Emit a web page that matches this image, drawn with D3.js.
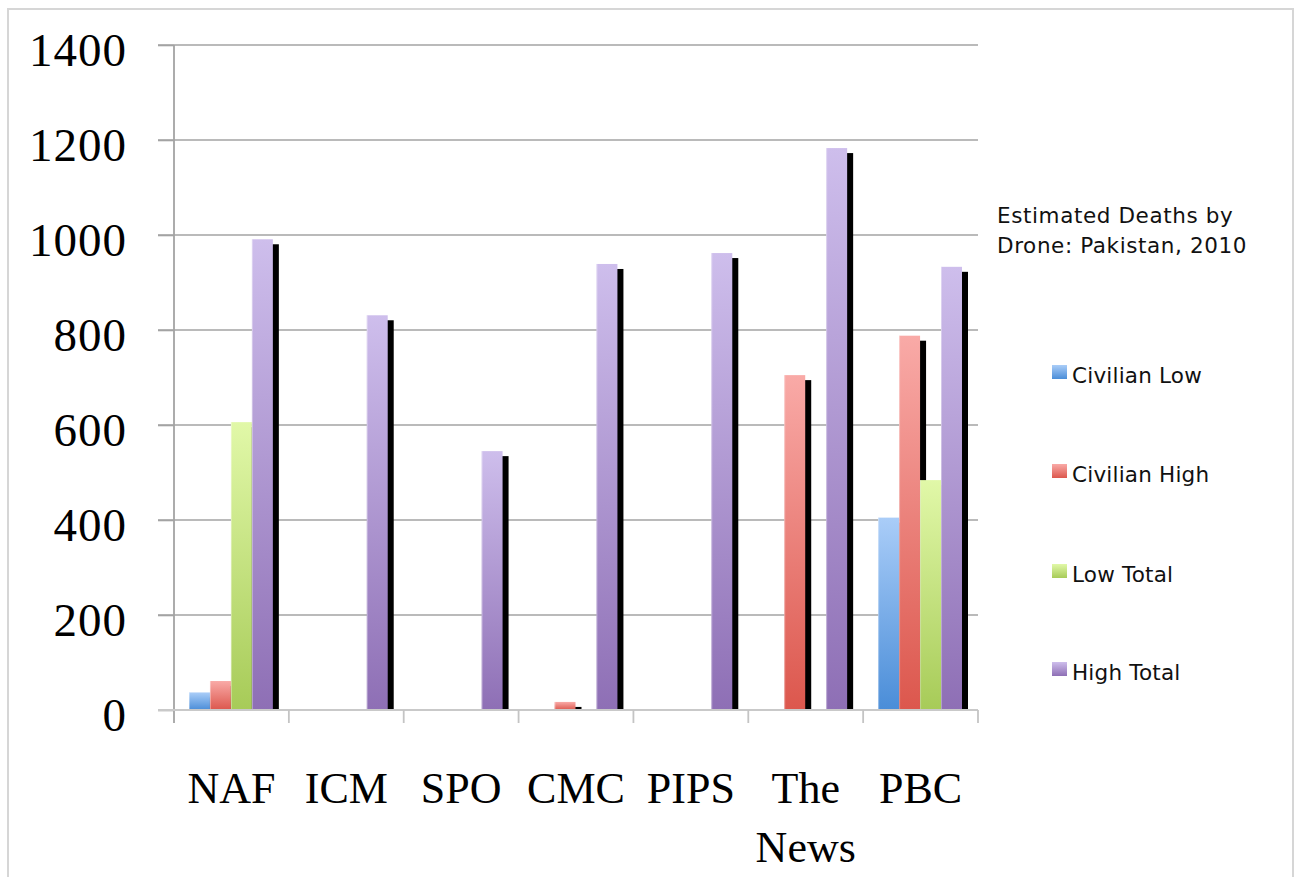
<!DOCTYPE html>
<html>
<head>
<meta charset="utf-8">
<script src="https://cdn.jsdelivr.net/npm/d3@7"></script>
<style>
  html, body { margin: 0; padding: 0; background: #fff; }
  svg { display: block; }
</style>
</head>
<body>
<svg id="chart" width="1298" height="877"></svg>
<script>
// ---- data ----
const categories = ["NAF", "ICM", "SPO", "CMC", "PIPS", "The News", "PBC"];
const seriesNames = ["Civilian Low", "Civilian High", "Low Total", "High Total"];
const civilianLow  = [37, 0, 0, 0, 0, 0, 405];
const civilianHigh = [61, 0, 0, 17, 0, 705, 788];
const lowTotal     = [606, 0, 0, 0, 0, 0, 484];
const highTotal    = [991, 831, 545, 939, 962, 1183, 933];
const yTicks = [0, 200, 400, 600, 800, 1000, 1200, 1400];
const titleLines = ["Estimated Deaths by", "Drone: Pakistan, 2010"];

const seriesValues = [civilianLow, civilianHigh, lowTotal, highTotal];
const seriesColors = [
  ["#aacdf8", "#4a8dd8"],
  ["#f9aaa7", "#dc574d"],
  ["#e1f8a8", "#a7cb58"],
  ["#cebeec", "#8e6fb5"]
];

const svg = d3.select("#chart");

// frame
svg.append("rect").attr("x", 8).attr("y", 9).attr("width", 1285).attr("height", 890)
  .attr("fill", "none").attr("stroke", "#d6d6d6").attr("stroke-width", 2);

// gradients
const defs = svg.append("defs");
seriesColors.forEach((c, i) => {
  const g = defs.append("linearGradient").attr("id", "grad" + i)
    .attr("x1", 0).attr("y1", 0).attr("x2", 0).attr("y2", 1);
  g.append("stop").attr("offset", "0%").attr("stop-color", c[0]);
  g.append("stop").attr("offset", "100%").attr("stop-color", c[1]);
});

const pLeft = 174, pRight = 978, pTop = 45, pBottom = 710;
const y = d3.scaleLinear().domain([0, 1400]).range([pBottom, pTop]);
const x = d3.scaleBand().domain(categories).range([pLeft, pRight]).padding(0);
const x1 = d3.scaleBand().domain(seriesNames).range([15, x.bandwidth() - 16]).padding(0);

// gridlines
svg.append("g").selectAll("line").data(yTicks.filter(d => d > 0)).join("line")
  .attr("x1", pLeft - 16).attr("x2", pRight)
  .attr("y1", d => y(d)).attr("y2", d => y(d))
  .attr("stroke", "#a3a3a3").attr("stroke-width", 1.6);

// y axis
const yAxis = svg.append("g").attr("transform", `translate(${pLeft},0)`)
  .call(d3.axisLeft(y).tickValues(yTicks).tickSize(16).tickPadding(31).tickFormat(d3.format("d")));
yAxis.select(".domain").remove();
yAxis.selectAll(".tick line").attr("stroke", "#a3a3a3").attr("stroke-width", 1.6);
yAxis.selectAll(".tick text")
  .attr("font-family", "'Liberation Serif', 'Times New Roman', serif")
  .attr("font-size", 47).attr("fill", "#000").attr("dy", "0.44em")
  .attr("letter-spacing", 1);
svg.append("line").attr("x1", pLeft).attr("x2", pLeft).attr("y1", pTop).attr("y2", pBottom + 13)
  .attr("stroke", "#a3a3a3").attr("stroke-width", 1.8);

// bars
const groups = svg.append("g").selectAll("g").data(categories).join("g")
  .attr("transform", d => `translate(${x(d)},0)`);
groups.each(function(cat, ci) {
  const g = d3.select(this);
  seriesNames.forEach((s, si) => {
    const v = seriesValues[si][ci];
    if (!v) return;
    const bx = x1(s), bw = x1.bandwidth();
    const by = y(v), bh = y(0) - y(v);
    if (bh > 5) {
      g.append("rect").attr("x", bx + 6).attr("y", by + 5).attr("width", bw).attr("height", bh - 5)
        .attr("fill", "#000");
    } else {
      g.append("rect").attr("x", bx + 6).attr("y", y(0) - 2).attr("width", bw).attr("height", 2)
        .attr("fill", "#000");
    }
    g.append("rect").attr("x", bx).attr("y", by).attr("width", bw).attr("height", bh)
      .attr("fill", `url(#grad${si})`);
    g.append("line").attr("x1", bx + 0.5).attr("x2", bx + 0.5).attr("y1", by).attr("y2", by + bh)
      .attr("stroke", "#fff").attr("stroke-opacity", 0.35).attr("stroke-width", 1);
  });
});

// zero line
svg.append("line").attr("x1", pLeft - 16).attr("x2", pRight).attr("y1", y(0)).attr("y2", y(0))
  .attr("stroke", "#c9c9c9").attr("stroke-width", 2);

// category ticks at band edges
const edges = categories.map(c => x(c)).concat([pRight]);
svg.append("g").selectAll("line").data(edges.slice(1)).join("line")
  .attr("x1", d => d).attr("x2", d => d).attr("y1", pBottom).attr("y2", pBottom + 13)
  .attr("stroke", "#c4c4c4").attr("stroke-width", 1.8);

// x labels via axis
const xAxis = svg.append("g").attr("transform", `translate(0,${pBottom})`)
  .call(d3.axisBottom(x).tickSize(0).tickPadding(0));
xAxis.select(".domain").remove();
xAxis.selectAll(".tick text").each(function(d) {
  const t = d3.select(this);
  t.text(null).attr("y", 93).attr("dy", 0)
    .attr("font-family", "'Liberation Serif', 'Times New Roman', serif")
    .attr("font-size", 44).attr("fill", "#000");
  d.split(" ").forEach((w, i) => {
    t.append("tspan").attr("x", 0).attr("dy", i === 0 ? 0 : 59).text(w);
  });
});

// legend title
const legend = svg.append("g").attr("font-family", "'DejaVu Sans', 'Open Sans', sans-serif");
legend.selectAll("text.title").data(titleLines).join("text").attr("class", "title")
  .attr("x", 997).attr("y", (d, i) => 223 + i * 30)
  .attr("font-size", 21.5).attr("letter-spacing", 0.6).attr("fill", "#111").text(d => d);

// legend items
const itemY = [383, 482, 582, 680];
seriesNames.forEach((s, i) => {
  legend.append("rect").attr("x", 1052).attr("y", itemY[i] - 18).attr("width", 15).attr("height", 14)
    .attr("fill", `url(#grad${i})`);
  legend.append("text").attr("x", 1072).attr("y", itemY[i])
    .attr("font-size", 21.5).attr("letter-spacing", 0.2).attr("fill", "#111").text(s);
});
</script>
</body>
</html>
